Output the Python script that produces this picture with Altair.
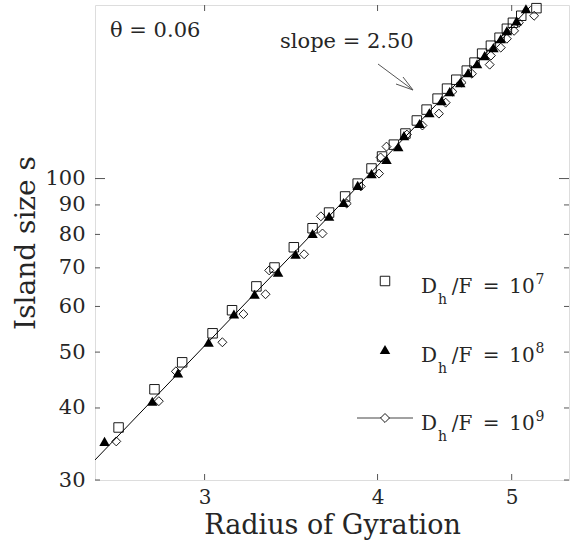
import altair as alt
import pandas as pd

# ---- data ----
sq_r = [2.60, 2.76, 2.89, 3.04, 3.14, 3.27, 3.37, 3.48, 3.59, 3.69,
        3.79, 3.87, 3.96, 4.03, 4.11, 4.19, 4.27, 4.34, 4.42, 4.49,
        4.56, 4.64, 4.70, 4.76, 4.83, 4.90, 4.96, 5.01, 5.08, 5.21]
sq_s = [37.0, 43.1, 48.0, 53.9, 59.1, 65.0, 70.1, 76.0, 82.0, 87.3,
        93.1, 98.0, 104.1, 109.2, 114.5, 119.7, 126.1, 131.7, 137.6, 143.2,
        148.4, 153.9, 158.9, 164.7, 170.0, 175.5, 181.9, 186.3, 191.6, 197.5]

tr_r = [2.54, 2.75, 2.87, 3.02, 3.15, 3.26, 3.39, 3.49, 3.59, 3.69,
        3.78, 3.87, 3.96, 4.06, 4.14, 4.18, 4.29, 4.36, 4.45, 4.51,
        4.59, 4.65, 4.72, 4.78, 4.85, 4.91, 4.96, 5.04, 5.12]
tr_s = [35.0, 41.1, 46.0, 52.0, 58.2, 63.0, 68.8, 73.9, 80.3, 86.0,
        90.9, 97.3, 102.0, 107.9, 113.6, 118.7, 124.6, 130.1, 136.5, 141.5,
        146.7, 152.6, 158.2, 163.4, 168.7, 174.8, 180.4, 187.7, 197.0]

dm_r = [2.59, 2.78, 2.86, 3.09, 3.20, 3.32, 3.34, 3.54, 3.65, 3.64,
        3.80, 3.89, 4.01, 4.02, 4.06, 4.20, 4.31, 4.43, 4.48, 4.53,
        4.60, 4.68, 4.82, 4.83, 4.91, 4.96, 5.02, 5.06, 5.19]
dm_s = [35.0, 41.1, 46.3, 52.0, 58.2, 63.0, 69.3, 73.9, 80.3, 86.0,
        90.5, 96.9, 102.0, 108.8, 113.6, 119.2, 123.6, 129.6, 135.4, 141.5,
        146.7, 152.0, 157.6, 163.4, 168.7, 174.8, 180.4, 186.3, 191.6]

fit_r = [2.5, 5.16]
fit_s = [32.5, 199.0]

x_ticks = [3, 4, 5]
y_ticks_minor = [30, 40, 50, 60, 70, 80, 90]
y_ticks_major = [100]
y_labels = [30, 40, 50, 60, 70, 80, 90, 100]

legend_exps = ["7", "8", "9"]

FONT = "DejaVu Serif"
TXT = "#262626"
FRAME = "#555555"
W, H = 474, 475

xscale = alt.Scale(type="log", domain=[2.5, 5.5], nice=False, zero=False)
yscale = alt.Scale(type="log", domain=[30, 200], nice=False, zero=False)

x_axis = alt.Axis(values=x_ticks, format="d", ticks=False, domain=False, grid=False,
                  labelFont=FONT, labelFontSize=20, labelColor=TXT, labelPadding=7,
                  title="Radius of Gyration", titleFont=FONT, titleFontSize=27,
                  titleFontWeight="normal", titleColor=TXT, titlePadding=5)
y_axis = alt.Axis(values=y_labels, format="d", ticks=False, domain=False, grid=False,
                  labelFont=FONT, labelFontSize=21, labelColor=TXT, labelPadding=10,
                  title="Island size s", titleFont=FONT, titleFontSize=28,
                  titleFontWeight="normal", titleColor=TXT, titlePadding=4)


def X():
    return alt.X("r:Q", scale=xscale, axis=x_axis)


def Y():
    return alt.Y("s:Q", scale=yscale, axis=y_axis)


df_sq = pd.DataFrame({"r": sq_r, "s": sq_s})
df_tr = pd.DataFrame({"r": tr_r, "s": tr_s})
df_dm = pd.DataFrame({"r": dm_r, "s": dm_s})
df_fit = pd.DataFrame({"r": fit_r, "s": fit_s})

layers = []

layers.append(alt.Chart(df_fit).mark_line(color="black", strokeWidth=1, clip=True)
              .encode(x=X(), y=Y()))
layers.append(alt.Chart(df_sq).mark_point(shape="square", size=90, filled=False,
                                          stroke="black", strokeWidth=0.9, opacity=1)
              .encode(x=X(), y=Y()))
layers.append(alt.Chart(df_tr).mark_point(shape="triangle-up", size=110, filled=True,
                                          fill="black", strokeWidth=0, opacity=1)
              .encode(x=X(), y=Y()))
layers.append(alt.Chart(df_dm).mark_point(shape="diamond", size=80, filled=False,
                                          stroke="black", strokeWidth=0.9, opacity=1)
              .encode(x=X(), y=Y()))

# inward tick marks
df_ytm = pd.DataFrame({"s": y_ticks_minor})
df_ytM = pd.DataFrame({"s": y_ticks_major})
df_xt = pd.DataFrame({"r": x_ticks})
tick_style = dict(color=FRAME, strokeWidth=1)
for xa, xb, d in [(0, 5, df_ytm), (0, 10, df_ytM), (W, W - 5, df_ytm), (W, W - 10, df_ytM)]:
    layers.append(alt.Chart(d).mark_rule(**tick_style)
                  .encode(y=Y(), x=alt.value(xa), x2=alt.value(xb)))
for ya, yb in [(H, H - 6), (0, 6)]:
    layers.append(alt.Chart(df_xt).mark_rule(**tick_style)
                  .encode(x=X(), y=alt.value(ya), y2=alt.value(yb)))


def text_layer(txt, x, y, size, align="left"):
    return alt.Chart(pd.DataFrame({"t": [txt]})).mark_text(
        font=FONT, fontSize=size, color=TXT, align=align, baseline="alphabetic"
    ).encode(text="t:N", x=alt.value(x), y=alt.value(y))


def seg(x1, y1, x2, y2, color=FRAME, width=1):
    return alt.Chart(pd.DataFrame({"k": [0]})).mark_rule(color=color, strokeWidth=width).encode(
        x=alt.value(x1), y=alt.value(y1), x2=alt.value(x2), y2=alt.value(y2))


# annotations
layers.append(text_layer("θ = 0.06", 15, 32, 21))
layers.append(text_layer("slope = 2.50", 185, 43, 21))
layers.append(seg(283, 59, 318, 85))
layers.append(seg(318, 85, 308, 72))
layers.append(seg(318, 85, 301, 79))

# legend
shapes = ["square", "triangle-up", "diamond"]
for i, ex in enumerate(legend_exps):
    base = 288 + 68.5 * i
    my = base - 12
    if i == 2:
        layers.append(seg(262, my, 318, my, color="#444444", width=1))
    k = pd.DataFrame({"k": [0]})
    if shapes[i] == "square":
        m = alt.Chart(k).mark_point(shape="square", size=90, filled=False, stroke="black",
                                    strokeWidth=0.9, opacity=1)
    elif shapes[i] == "triangle-up":
        m = alt.Chart(k).mark_point(shape="triangle-up", size=110, filled=True, fill="black",
                                    strokeWidth=0, opacity=1)
    else:
        m = alt.Chart(k).mark_point(shape="diamond", size=80, filled=True, fill="white",
                                    stroke="black", strokeWidth=0.9, opacity=1)
    layers.append(m.encode(x=alt.value(290), y=alt.value(my)))
    layers.append(text_layer("D", 334, base, 20, "center"))
    layers.append(text_layer("h", 347.5, base + 11, 14, "center"))
    layers.append(text_layer("/F", 367, base, 20, "center"))
    layers.append(text_layer("=", 396, base, 20, "center"))
    layers.append(text_layer("10", 427, base, 20, "center"))
    layers.append(text_layer(ex, 445, base - 9, 14, "center"))

chart = alt.layer(*layers).properties(
    width=W, height=H,
    padding={"left": 95, "top": 5, "right": 7, "bottom": 61},
    autosize=alt.AutoSizeParams(type="none"),
).configure_view(stroke=FRAME, strokeWidth=1.5).configure(background="white")

chart.save("out.html", embed_options={"renderer": "svg", "actions": False})
